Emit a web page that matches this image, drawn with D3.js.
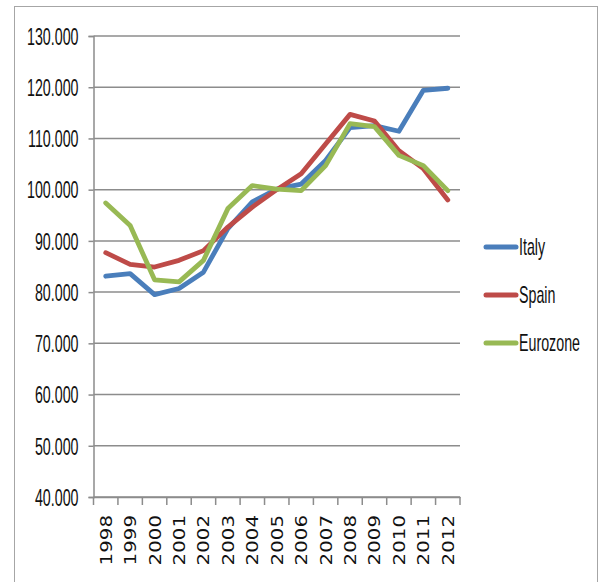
<!DOCTYPE html>
<html><head><meta charset="utf-8">
<script src="https://cdn.jsdelivr.net/npm/d3@7"></script>
<style>body{margin:0;background:#fff}svg{display:block}</style>
</head><body>
<script>
const years = ["1998","1999","2000","2001","2002","2003","2004","2005","2006","2007","2008","2009","2010","2011","2012"];
const italy    = [83.1, 83.6, 79.5, 80.7, 83.9, 92.4, 97.6, 100.1, 101.1, 105.7, 112.1, 112.5, 111.4, 119.4, 119.8];
const spain    = [87.7, 85.4, 84.9, 86.2, 88.1, 92.7, 96.6, 100.0, 103.1, 108.9, 114.7, 113.4, 107.6, 104.1, 98.0];
const eurozone = [97.4, 93.0, 82.4, 82.0, 86.2, 96.3, 100.8, 100.1, 99.8, 104.7, 112.9, 112.3, 106.7, 104.7, 99.8];
const yTicks = [40, 50, 60, 70, 80, 90, 100, 110, 120, 130];
const seriesNames = ["Italy", "Spain", "Eurozone"];
const seriesColors = ["#4A7EBB", "#BE4B48", "#98B954"];
const seriesData = [italy, spain, eurozone];

const W = 602, H = 582;
const svg = d3.select("body").append("svg").attr("width", W).attr("height", H);

// outer frame
svg.append("rect").attr("x", 14.5).attr("y", 6.5).attr("width", 583).attr("height", 600)
  .attr("fill", "none").attr("stroke", "#a6a6a6").attr("stroke-width", 1);

const x = d3.scaleBand().domain(years).range([93.5, 460]);
const y = d3.scaleLinear().domain([40, 130]).range([497, 36]);

// gridlines
svg.append("g").selectAll("line").data(yTicks).join("line")
  .attr("x1", 93.5).attr("x2", 460)
  .attr("y1", d => y(d)).attr("y2", d => y(d))
  .attr("stroke", "#8c8c8c").attr("stroke-width", 1.5);

// y axis
const yAxis = svg.append("g").attr("transform", "translate(93.5,0)")
  .call(d3.axisLeft(y).tickValues(yTicks).tickSize(5).tickPadding(10).tickFormat(d3.format(".3f")));
yAxis.select(".domain").attr("stroke", "#8c8c8c").attr("stroke-width", 1.5);
yAxis.selectAll(".tick line").attr("stroke", "#8c8c8c").attr("stroke-width", 1.5);
yAxis.selectAll(".tick text")
  .attr("font-family", "Liberation Sans, Arial, sans-serif").attr("font-size", 23).attr("fill", "#111")
  .attr("dy", "0.36em")
  .each(function(){ const t = d3.select(this); const xx = +t.attr("x"); t.attr("x", null).attr("transform", `translate(${xx},0) scale(0.62,1)`); });

// x axis
const xAxis = svg.append("g").attr("transform", `translate(0,${y(40)})`)
  .call(d3.axisBottom(x).tickSize(0).tickPadding(0));
xAxis.select(".domain").attr("stroke", "#8c8c8c").attr("stroke-width", 1.5);
// tick marks at band boundaries
const bounds = years.map(d => x(d)).concat([x.range()[1]]);
svg.append("g").selectAll("line").data(bounds).join("line")
  .attr("x1", d => d).attr("x2", d => d).attr("y1", y(40)).attr("y2", y(40) + 8)
  .attr("stroke", "#8c8c8c").attr("stroke-width", 1.5);
xAxis.selectAll(".tick text")
  .attr("font-family", "DejaVu Sans, Verdana, sans-serif").attr("font-size", 16.5).attr("fill", "#111")
  .attr("text-anchor", "end").attr("y", 0).attr("dy", null)
  .attr("transform", "translate(0,18) rotate(-90) scale(1.2,1) translate(0,6)");

// lines
const line = d3.line().x((d, i) => x(years[i]) + x.bandwidth() / 2).y(d => y(d));
seriesData.forEach((s, k) => {
  svg.append("path").datum(s).attr("d", line).attr("fill", "none")
    .attr("stroke", seriesColors[k]).attr("stroke-width", 4.8)
    .attr("stroke-linejoin", "round").attr("stroke-linecap", "round");
});

// legend
const legY = d3.scalePoint().domain(seriesNames).range([247, 343]);
const leg = svg.append("g").selectAll("g").data(seriesNames).join("g")
  .attr("transform", d => `translate(484,${legY(d)})`);
leg.append("line").attr("x1", 2).attr("x2", 32).attr("y1", 0).attr("y2", 0)
  .attr("stroke", (d, i) => seriesColors[i]).attr("stroke-width", 5).attr("stroke-linecap", "round");
leg.append("text").text(d => d)
  .attr("font-family", "Liberation Sans, Arial, sans-serif").attr("font-size", 23).attr("fill", "#111")
  .attr("dy", "0.36em").attr("transform", "translate(35,0) scale(0.62,1)");
</script>
</body></html>
